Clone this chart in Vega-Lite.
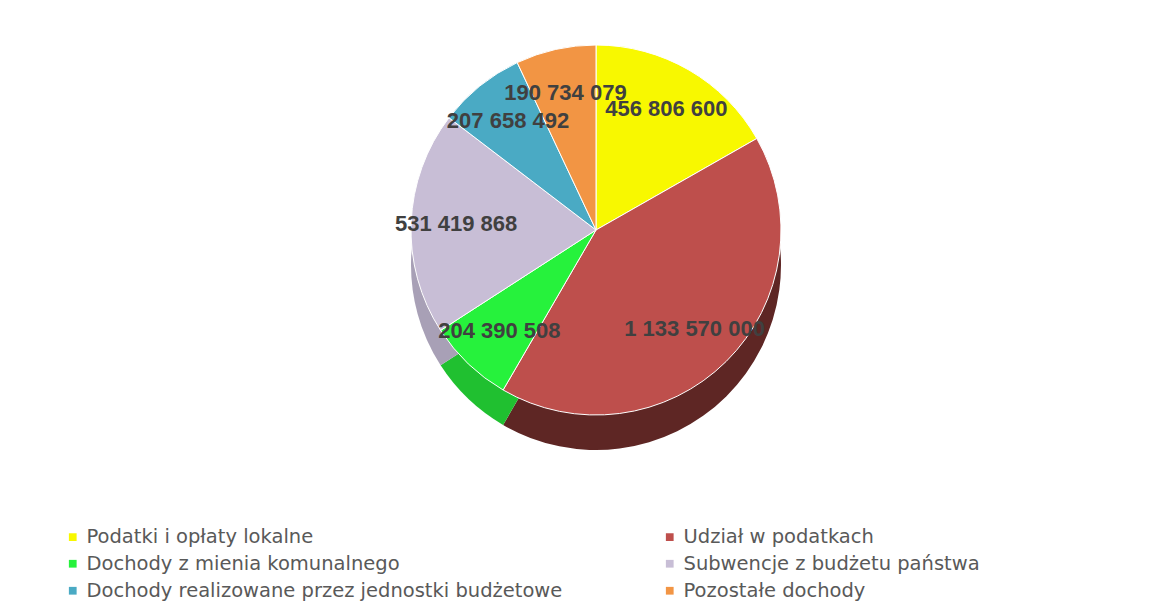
{
  "$schema": "https://vega.github.io/schema/vega-lite/v6.json",
  "width": 1150,
  "height": 460,
  "autosize": "none",
  "padding": {"left": 21, "top": 0, "right": 0, "bottom": 148},
  "background": "white",
  "config": {"view": {"stroke": null}},
  "data": {
    "values": [
      {"idx": 1, "kategoria": "Podatki i opłaty lokalne", "kwota": 456806600, "etykieta": "456 806 600"},
      {"idx": 2, "kategoria": " Udział w podatkach", "kwota": 1133570000, "etykieta": "1 133 570 000"},
      {"idx": 3, "kategoria": "Dochody z mienia komunalnego", "kwota": 204390508, "etykieta": "204 390 508"},
      {"idx": 4, "kategoria": "Subwencje z budżetu państwa", "kwota": 531419868, "etykieta": "531 419 868"},
      {"idx": 5, "kategoria": "Dochody realizowane przez jednostki  budżetowe", "kwota": 207658492, "etykieta": "207 658 492"},
      {"idx": 6, "kategoria": "Pozostałe dochody", "kwota": 190734079, "etykieta": "190 734 079"}
    ]
  },
  "encoding": {
    "theta": {"field": "kwota", "type": "quantitative", "stack": true},
    "order": {"field": "idx", "type": "quantitative"}
  },
  "layer": [
    {
      "mark": {"type": "arc", "outerRadius": 185, "yOffset": 35},
      "encoding": {
        "color": {
          "field": "kategoria",
          "type": "nominal",
          "legend": null,
          "scale": {
            "domain": ["Podatki i opłaty lokalne", "Dochody z mienia komunalnego", "Dochody realizowane przez jednostki  budżetowe", " Udział w podatkach", "Subwencje z budżetu państwa", "Pozostałe dochody"],
            "range": ["#C8C800", "#20C030", "#3A8AA0", "#5E2624", "#A8A0B6", "#C07030"]
          }
        }
      }
    },
    {
      "mark": {"type": "arc", "outerRadius": 185, "stroke": "white", "strokeWidth": 1},
      "encoding": {
        "color": {
          "field": "kategoria",
          "type": "nominal",
          "sort": null,
          "scale": {
            "domain": ["Podatki i opłaty lokalne", "Dochody z mienia komunalnego", "Dochody realizowane przez jednostki  budżetowe", " Udział w podatkach", "Subwencje z budżetu państwa", "Pozostałe dochody"],
            "range": ["#F8F800", "#26F23C", "#4AAAC4", "#BE4F4C", "#C8BED6", "#F29544"]
          },
          "legend": {
            "orient": "none",
            "legendX": 42,
            "legendY": 527,
            "columns": 2,
            "columnPadding": 91,
            "rowPadding": 6,
            "title": null,
            "symbolType": "square",
            "symbolSize": 60,
            "symbolStrokeWidth": 0,
            "labelFont": "DejaVu Sans",
            "labelFontSize": 19.5,
            "labelColor": "#595959",
            "labelLimit": 0,
            "labelOffset": 4
          }
        }
      }
    },
    {
      "mark": {"type": "text", "radius": 140, "font": "Liberation Sans", "fontWeight": "bold", "fontSize": 22, "fill": "#404040"},
      "encoding": {
        "text": {"field": "etykieta", "type": "nominal"}
      }
    }
  ],
  "resolve": {"scale": {"color": "independent"}}
}
